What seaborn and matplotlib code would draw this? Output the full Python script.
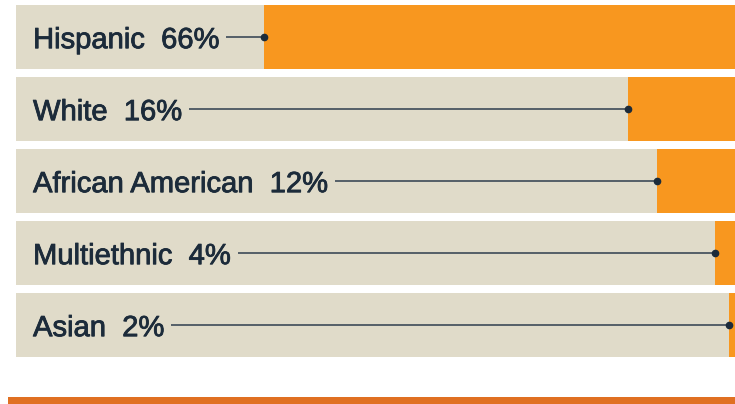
import matplotlib
matplotlib.use("Agg")
import matplotlib.pyplot as plt
from matplotlib import font_manager
import matplotlib.patheffects as pe
from matplotlib.patches import Rectangle
import seaborn as sns

# data
groups = ["Hispanic", "White", "African American", "Multiethnic", "Asian"]
shares = [66, 16, 12, 4, 2]

beige = "#e0dbc9"
orange = "#f8971f"
navy = "#1c2b3a"
line_col = "#4a5560"

sns.set_theme(style="white")

# condensed bold face if it is there, otherwise a plain sans thickened a bit
try:
    font_manager.findfont(font_manager.FontProperties(family="Liberation Sans Narrow", weight="bold"),
                          fallback_to_default=False)
    label_font = dict(family=["Liberation Sans Narrow", "DejaVu Sans"], weight="bold", size=23)
    thicken = []
except ValueError:
    label_font = dict(family=["Liberation Sans", "DejaVu Sans"], weight="normal", size=21)
    thicken = [pe.withStroke(linewidth=0.6, foreground=navy)]

fig = plt.figure(figsize=(7.35, 4.04), dpi=100)
W, H = 735, 404
# full bar spans x 16..744 px (runs off the right edge), rows from y 1..361 px
ax = fig.add_axes([16 / W, (H - 361) / H, 728 / W, 360 / H])

full = [100] * len(groups)
rest = [100 - s for s in shares]

sns.barplot(x=full, y=groups, orient="h", color=orange, saturation=1,
            width=64 / 72, linewidth=0, ax=ax)
sns.barplot(x=rest, y=groups, orient="h", color=beige, saturation=1,
            width=64 / 72, linewidth=0, ax=ax)

ax.set_xlim(0, 100)
ax.set_ylim(len(groups) - 0.5, -0.5)
ax.axis("off")

fig.canvas.draw()
renderer = fig.canvas.get_renderer()
for i, (g, s) in enumerate(zip(groups, shares)):
    t = ax.text(2.34, i + 0.155, f"{g}  {s}%", color=navy,
                va="baseline", ha="left", path_effects=thicken, **label_font)
    bb = t.get_window_extent(renderer)
    x0 = ax.transData.inverted().transform((bb.x1 + 7, 0))[0]
    x1 = 100 - s
    ax.plot([x0, x1], [i, i], color=line_col, lw=1.3, solid_capstyle="butt")
    ax.plot([x1], [i], "o", color=navy, ms=4.5, zorder=5)

# bottom rule
fig.add_artist(Rectangle((8 / W, 0), 1 - 8 / W, 7 / H, transform=fig.transFigure,
                         color="#e07022", lw=0))

fig.savefig("out.png", dpi=100)
